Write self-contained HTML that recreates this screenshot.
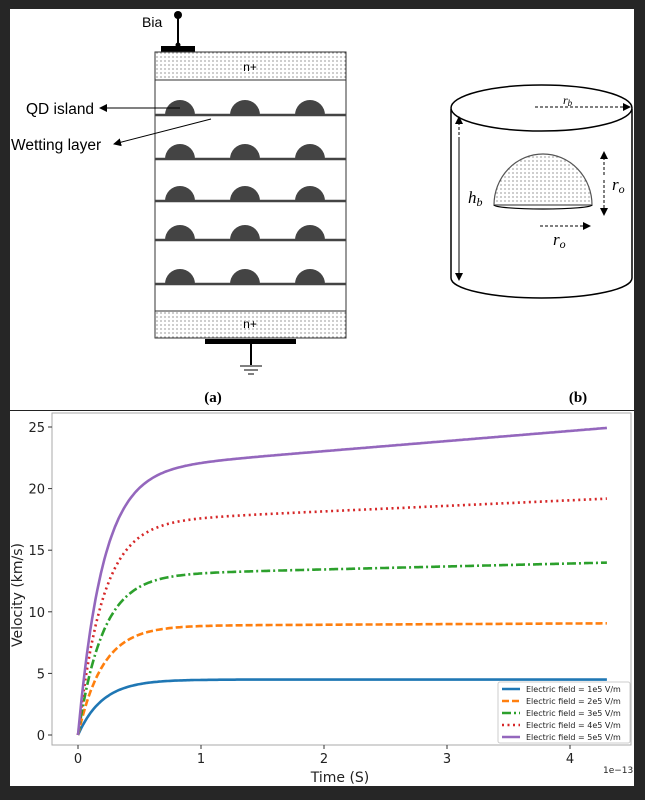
<!DOCTYPE html>
<html><head><meta charset="utf-8"><style>
html,body{margin:0;padding:0;background:#262626;}
svg{display:block;font-family:"DejaVu Sans","Liberation Sans",sans-serif;}
.ls{font-family:"Liberation Sans",sans-serif;}
.lr{font-family:"Liberation Serif",serif;}
</style></head><body>
<svg id="s" width="645" height="800" xmlns="http://www.w3.org/2000/svg">
<defs>
<pattern id="dots" width="4" height="4" patternUnits="userSpaceOnUse"><rect width="4" height="4" fill="#fff"/><circle cx="1" cy="1" r="0.6" fill="#555"/></pattern>
<marker id="ah" markerWidth="8" markerHeight="8" refX="7" refY="4" orient="auto" markerUnits="userSpaceOnUse"><path d="M0,0 L8,4 L0,8 z" fill="#000"/></marker>
</defs>
<rect x="10" y="9" width="624" height="777" fill="#fff"/>
<text class="ls" x="142" y="27" font-size="14">Bia</text>
<circle cx="178" cy="15" r="4" fill="#000"/>
<line x1="178" y1="15" x2="178" y2="48" stroke="#000" stroke-width="2"/>
<circle cx="178" cy="45" r="2.5" fill="#000"/>
<rect x="161" y="46" width="34" height="6" fill="#000"/>
<rect x="155" y="52" width="191" height="28" fill="url(#dots)" stroke="#333" stroke-width="1"/>
<text class="ls" x="250" y="71" font-size="12" text-anchor="middle">n+</text>
<rect x="155" y="80" width="191" height="231" fill="#fff" stroke="#333" stroke-width="1"/>
<g fill="#444" stroke="none" id="dotsg"></g>
<rect x="155" y="311" width="191" height="27" fill="url(#dots)" stroke="#333" stroke-width="1"/>
<text class="ls" x="250" y="328" font-size="12" text-anchor="middle">n+</text>
<rect x="205" y="339" width="91" height="5" fill="#000"/>
<line x1="251" y1="344" x2="251" y2="365" stroke="#000" stroke-width="2"/>
<line x1="240" y1="366" x2="262" y2="366" stroke="#000" stroke-width="1"/>
<line x1="244" y1="370" x2="258" y2="370" stroke="#000" stroke-width="1"/>
<line x1="248" y1="374" x2="254" y2="374" stroke="#000" stroke-width="1"/>
<text class="ls" x="26" y="114" font-size="15.5">QD island</text>
<line x1="180" y1="108" x2="100" y2="108" stroke="#000" marker-end="url(#ah)"/>
<text class="ls" x="11" y="150" font-size="15.5">Wetting layer</text>
<line x1="211" y1="119" x2="114" y2="144" stroke="#000" marker-end="url(#ah)"/>
<text class="lr" x="213" y="402" font-size="15" font-weight="bold" text-anchor="middle">(a)</text>
<path d="M451,109 L451,278 A90.5,20 0 0 0 632,278 L632,109" fill="#fff" stroke="#000" stroke-width="1.5"/>
<ellipse cx="541.5" cy="108" rx="90.5" ry="23" fill="#fff" stroke="#000" stroke-width="1.5"/>
<line x1="535" y1="107" x2="630" y2="107" stroke="#000" stroke-dasharray="3,2" marker-end="url(#ah)"/>
<text class="lr" x="563" y="104" font-size="12" font-style="italic">r<tspan font-size="9" dy="2">b</tspan></text>
<line x1="459" y1="270" x2="459" y2="117" stroke="#000" stroke-dasharray="3,2" marker-end="url(#ah)"/>
<line x1="459" y1="140" x2="459" y2="280" stroke="#000" stroke-dasharray="3,2" marker-end="url(#ah)"/>
<path d="M494,205 A49,51 0 0 1 592,205 Z" fill="url(#dots)" stroke="#555" stroke-width="1.2"/>
<path d="M494,205 A49,4 0 0 0 592,205" fill="none" stroke="#000" stroke-width="1.2"/>
<text class="lr" x="468" y="203" font-size="17" font-style="italic">h<tspan font-size="12" dy="3">b</tspan></text>
<line x1="604" y1="175" x2="604" y2="152" stroke="#000" stroke-dasharray="3,2" marker-end="url(#ah)"/>
<line x1="604" y1="180" x2="604" y2="215" stroke="#000" stroke-dasharray="3,2" marker-end="url(#ah)"/>
<text class="lr" x="612" y="190" font-size="17" font-style="italic">r<tspan font-size="12" dy="3">o</tspan></text>
<line x1="540" y1="226" x2="590" y2="226" stroke="#000" stroke-dasharray="3,2" marker-end="url(#ah)"/>
<text class="lr" x="553" y="245" font-size="17" font-style="italic">r<tspan font-size="12" dy="3">o</tspan></text>
<text class="lr" x="578" y="402" font-size="15" font-weight="bold" text-anchor="middle">(b)</text>
<line x1="10" y1="410.5" x2="634" y2="410.5" stroke="#222" stroke-width="1"/>
<rect x="52" y="413" width="579" height="332" fill="#fff" stroke="#aaa" stroke-width="1"/>
<g id="ticks" font-size="13" fill="#222"></g>
<g id="curves" fill="none"></g>
<text x="340" y="782" font-size="14" text-anchor="middle" fill="#222">Time (S)</text>
<text x="603" y="773" font-size="9" fill="#222">1e−13</text>
<text transform="translate(22,595) rotate(-90)" font-size="14" text-anchor="middle" fill="#222">Velocity (km/s)</text>
<g id="legend"></g>
</svg>
<script>
var NS="http://www.w3.org/2000/svg";
function el(t,a,p,txt){var e=document.createElementNS(NS,t);for(var k in a)e.setAttribute(k,a[k]);if(txt!=null)e.textContent=txt;document.getElementById(p).appendChild(e);return e;}
var layers=[115,159,201,240,284];
layers.forEach(function(y){
 el("line",{x1:155,y1:y,x2:346,y2:y,stroke:"#444","stroke-width":2.5},"dotsg");
 [180,245,310].forEach(function(cx){el("path",{d:"M"+(cx-15)+","+y+" A15,15 0 0 1 "+(cx+15)+","+y+" Z",fill:"#444"},"dotsg");});
});
function X(t){return 78+123*t;} function Y(v){return 735-12.32*v;}
for(var i=0;i<=4;i++){el("line",{x1:X(i),y1:745,x2:X(i),y2:749,stroke:"#333"},"ticks");el("text",{x:X(i),y:763,"text-anchor":"middle"},"ticks",i);}
for(var v=0;v<=25;v+=5){el("line",{x1:48,y1:Y(v),x2:52,y2:Y(v),stroke:"#333"},"ticks");el("text",{x:45,y:Y(v)+5,"text-anchor":"end"},"ticks",v);}
var S=[[4.5,0,"#1f77b4",""],[8.85,0.05,"#ff7f0e","7,3"],[12.96,0.24,"#2ca02c","9,3,2,3"],[17.25,0.45,"#d62728","2,3.5"],[21.4,0.82,"#9467bd",""]];
S.forEach(function(s){var d="";for(var k=0;k<=300;k++){var t=4.3*k/300;var v=s[0]*(1-Math.exp(-t/0.2))+s[1]*t;d+=(k?"L":"M")+X(t).toFixed(1)+","+Y(v).toFixed(1);}
 var a={d:d,stroke:s[2],"stroke-width":2.6};if(s[3])a["stroke-dasharray"]=s[3];el("path",a,"curves");});
el("rect",{x:498,y:682,width:132,height:61,fill:"#fff",stroke:"#ccc",rx:2},"legend");
S.forEach(function(s,i){var y=689+12*i;var a={x1:502,y1:y,x2:520,y2:y,stroke:s[2],"stroke-width":2.4};if(s[3])a["stroke-dasharray"]=s[3];el("line",a,"legend");
 el("text",{x:526,y:y+3,"font-size":8,fill:"#222"},"legend","Electric field = "+(i+1)+"e5 V/m");});
</script>
</body></html>
